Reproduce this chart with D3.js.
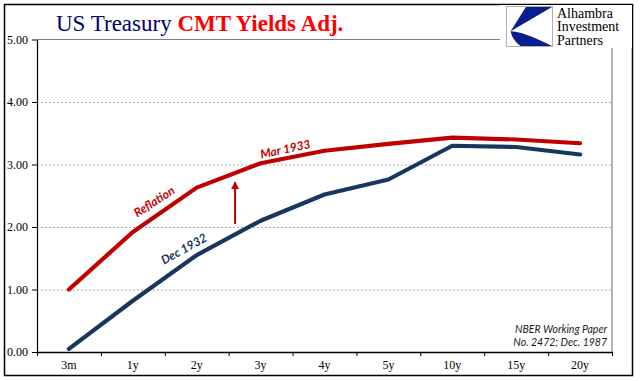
<!DOCTYPE html>
<html><head><meta charset="utf-8">
<script src="https://cdn.jsdelivr.net/npm/d3@7"></script>
<style>body{margin:0;background:#fff}svg{display:block}</style>
</head><body><svg id="c" width="641" height="381"></svg>
<script>
const categories = ["3m","1y","2y","3y","4y","5y","10y","15y","20y"];
const mar1933 = [1.00,1.92,2.63,3.02,3.22,3.33,3.43,3.40,3.34];
const dec1932 = [0.05,0.82,1.55,2.10,2.52,2.76,3.30,3.28,3.16];
const yTicks = [0,1,2,3,4,5];
const seriesNames = ["Mar 1933","Dec 1932"];
const annotations = [
  {text:"Reflation", i:1.37, v:2.35, rot:-33, color:"#C00000"},
  {text:"Mar 1933", i:3.40, v:3.18, rot:-12, color:"#C00000"},
  {text:"Dec 1932", i:1.83, v:1.59, rot:-29, color:"#17375E"}
];
const arrow = {i:2.6, from:2.05, to:2.72};

const svg = d3.select("#c");
const L=37, R=612, T=39.5, B=352;
const x = d3.scaleBand().domain(categories).range([L,R]);
const xi = d3.scaleLinear().domain([0,categories.length]).range([L,R]);
const y = d3.scaleLinear().domain([0,5]).range([B,T]);
const xc = i => xi(i+0.5);

// outer border
svg.append("rect").attr("x",4.5).attr("y",4.5).attr("width",628).attr("height",371)
  .attr("fill","none").attr("stroke","#000").attr("stroke-width",1.5);

// gridlines
svg.append("g").selectAll("line").data(yTicks.filter(d=>d>0&&d<5)).join("line")
  .attr("x1",L).attr("x2",R).attr("y1",d=>y(d)+0.5).attr("y2",d=>y(d)+0.5)
  .attr("stroke","#AFAFAF").attr("stroke-dasharray","2,2").attr("stroke-width",1);
// plot border top & right
svg.append("line").attr("x1",L).attr("x2",R).attr("y1",y(5)).attr("y2",y(5)).attr("stroke","#808080").attr("stroke-width",1.2);
svg.append("line").attr("x1",R).attr("x2",R).attr("y1",y(5)).attr("y2",B).attr("stroke","#808080").attr("stroke-width",1.2);

// y axis
const ya = svg.append("g").attr("transform",`translate(${L},0)`)
  .call(d3.axisLeft(y).tickValues(yTicks).tickFormat(d3.format(".2f")).tickSize(5).tickSizeOuter(0));
ya.select(".domain").attr("stroke","#000").attr("stroke-width",1.2);
ya.selectAll(".tick line").attr("stroke","#000");
ya.selectAll("text").attr("font-family","Liberation Serif").attr("font-size",12).attr("fill","#000").attr("dx",-1);

// x axis
const xa = svg.append("g").attr("transform",`translate(0,${B})`)
  .call(d3.axisBottom(xi).tickValues(d3.range(categories.length+1)).tickFormat("").tickSize(4).tickSizeOuter(0));
xa.select(".domain").attr("stroke","#000").attr("stroke-width",1.5);
xa.selectAll(".tick line").attr("stroke","#000");
svg.append("g").selectAll("text").data(categories).join("text")
  .attr("x",d=>x(d)+x.bandwidth()/2).attr("y",369).attr("text-anchor","middle")
  .attr("font-family","Liberation Serif").attr("font-size",12).text(d=>d);

// lines
const line = d3.line().x((d,i)=>xc(i)).y(d=>y(d));
[[dec1932,"#17375E"],[mar1933,"#C00000"]].forEach(([s,c])=>{
  svg.append("path").datum(s).attr("d",line).attr("fill","none").attr("stroke",c)
    .attr("stroke-width",4.2).attr("stroke-linejoin","round").attr("stroke-linecap","round");
});

// arrow
svg.append("defs").append("marker").attr("id","ah").attr("viewBox","0 0 10 10")
  .attr("refX",9).attr("refY",5).attr("markerWidth",4).attr("markerHeight",4).attr("orient","auto")
  .append("path").attr("d","M0,0 L10,5 L0,10 Z").attr("fill","#C00000");
svg.append("line").attr("x1",xc(arrow.i)).attr("x2",xc(arrow.i)).attr("y1",y(arrow.from)).attr("y2",y(arrow.to))
  .attr("stroke","#C00000").attr("stroke-width",2).attr("marker-end","url(#ah)");

// annotations
svg.append("g").selectAll("text").data(annotations).join("text")
  .attr("transform",d=>`translate(${xc(d.i)},${y(d.v)}) rotate(${d.rot})`)
  .attr("text-anchor","middle").attr("font-family","Lato").attr("font-style","italic").attr("font-weight","bold")
  .attr("font-size",12).attr("fill",d=>d.color).text(d=>d.text);

// source note
const note = svg.append("text").attr("text-anchor","end").attr("font-family","Lato").attr("font-style","italic")
  .attr("font-size",10.5).attr("fill","#1a1a1a");
note.append("tspan").attr("x",607).attr("y",333).text("NBER Working Paper");
note.append("tspan").attr("x",607).attr("y",346).text("No. 2472; Dec. 1987");

// title
const title = svg.append("text").attr("x",56).attr("y",31).attr("font-family","Liberation Serif").attr("font-size",23);
title.append("tspan").attr("fill","#00006E").text("US Treasury ");
title.append("tspan").attr("fill","#FF0000").attr("font-weight","bold").text("CMT Yields Adj.");

// logo
const lg = svg.append("g");
lg.append("rect").attr("x",500).attr("y",5).attr("width",132).attr("height",43).attr("fill","#fff");
lg.append("rect").attr("x",506.5).attr("y",6.5).attr("width",46).attr("height",40).attr("fill","#fff").attr("stroke","#B0B0B0");
const bx=507, by=7, bw=45, bh=39;
lg.append("path").attr("fill","#0A1F8F").attr("d",
  `M${bx+bw*0.42},${by} L${bx+bw},${by} L${bx+bw*0.08},${by+bh*0.62} Q${bx+bw*0.35},${by+bh*0.62} ${bx+bw},${by+bh} L${bx+bw*0.3},${by+bh} Q${bx+bw*0.12},${by+bh*0.85} ${bx+bw*0.08},${by+bh*0.62} Z`);
const lt = lg.append("text").attr("font-family","Liberation Serif").attr("font-size",14).attr("fill","#000");
["Alhambra","Investment","Partners"].forEach((t,k)=>lt.append("tspan").attr("x",557).attr("y",17.5+k*13.7).text(t));
</script></body></html>
